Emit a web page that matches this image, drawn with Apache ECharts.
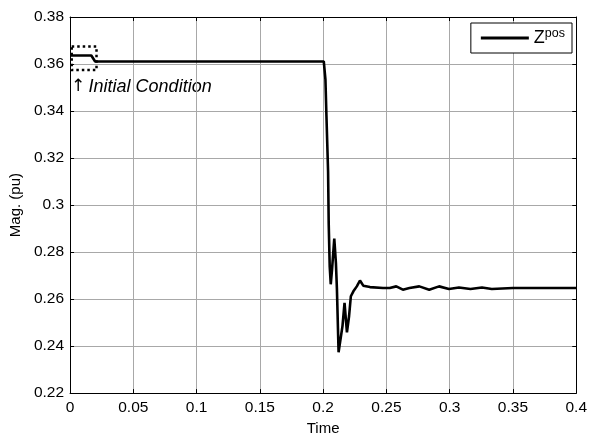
<!DOCTYPE html>
<html>
<head>
<meta charset="utf-8">
<script src="https://cdn.jsdelivr.net/npm/echarts@6/dist/echarts.min.js"></script>
<style>
html,body{margin:0;padding:0;background:#fff;}
#c{width:590px;height:441px;}
</style>
</head>
<body>
<div id="c"></div>
<script>
// Data
var timeValues = [0, 0.0168, 0.0198, 0.2005, 0.2018, 0.2026, 0.2039, 0.2044, 0.2052, 0.2060, 0.2070, 0.2088, 0.2101, 0.2109, 0.2122, 0.2135, 0.2153, 0.2169, 0.2188, 0.2205, 0.2219, 0.2239, 0.2266, 0.2291, 0.2317, 0.2370, 0.2473, 0.2526, 0.2578, 0.2630, 0.2682, 0.2760, 0.2838, 0.2916, 0.2994, 0.3073, 0.3164, 0.3255, 0.3333, 0.3500, 0.4000];
var magValues  = [0.3636, 0.3636, 0.3611, 0.3611, 0.3535, 0.3380, 0.3143, 0.2920, 0.2738, 0.2663, 0.2724, 0.2857, 0.2752, 0.2640, 0.2374, 0.2366, 0.2486, 0.2584, 0.2458, 0.2528, 0.2612, 0.2633, 0.2654, 0.2679, 0.2657, 0.2651, 0.2647, 0.2647, 0.2654, 0.2640, 0.2647, 0.2654, 0.2640, 0.2654, 0.2643, 0.2649, 0.2643, 0.2649, 0.2643, 0.2647, 0.2647];
var xTicks = {min: 0, max: 0.4, interval: 0.05};
var yTicks = {min: 0.22, max: 0.38, interval: 0.02};
var initialBoxX = [0.0013, 0.0209];
var initialBoxY = [0.3574, 0.3674];
var seriesName = 'Zpos';
var annotationText = 'Initial Condition';

var pts = timeValues.map(function (t, i) { return [t, magValues[i]]; });
var font = 'Liberation Sans, Arial, Helvetica, sans-serif';

function fmt(v) {
  return String(parseFloat(v.toFixed(4)));
}

var chart = echarts.init(document.getElementById('c'), null, {renderer: 'canvas'});
chart.setOption({
  animation: false,
  backgroundColor: '#fff',
  grid: {left: 67, right: 11, top: 17, bottom: 43, containLabel: false},
  xAxis: [{
    type: 'value', min: xTicks.min, max: xTicks.max, interval: xTicks.interval,
    name: 'Time', nameLocation: 'middle', nameGap: 24,
    nameTextStyle: {color: '#000', fontSize: 15, fontFamily: font},
    axisLine: {show: true, onZero: false, lineStyle: {color: '#000', width: 1}},
    axisTick: {show: true, inside: true, length: 4, lineStyle: {color: '#000'}},
    axisLabel: {color: '#000', fontSize: 15.5, fontFamily: font, margin: 7, formatter: fmt},
    splitLine: {show: true, lineStyle: {color: '#a8a8a8', width: 1}}
  }, {
    type: 'value', position: 'top', min: xTicks.min, max: xTicks.max, interval: xTicks.interval,
    axisLine: {show: true, onZero: false, lineStyle: {color: '#000', width: 1}},
    axisTick: {show: true, inside: true, length: 4, lineStyle: {color: '#000'}},
    axisLabel: {show: false}, splitLine: {show: false}
  }],
  yAxis: [{
    type: 'value', min: yTicks.min, max: yTicks.max, interval: yTicks.interval,
    name: 'Mag. (pu)', nameLocation: 'middle', nameGap: 46,
    nameTextStyle: {color: '#000', fontSize: 15, fontFamily: font},
    axisLine: {show: true, onZero: false, lineStyle: {color: '#000', width: 1}},
    axisTick: {show: true, inside: true, length: 4, lineStyle: {color: '#000'}},
    axisLabel: {color: '#000', fontSize: 15.5, fontFamily: font, margin: 6, formatter: fmt},
    splitLine: {show: true, lineStyle: {color: '#a8a8a8', width: 1}}
  }, {
    type: 'value', position: 'right', min: yTicks.min, max: yTicks.max, interval: yTicks.interval,
    axisLine: {show: true, onZero: false, lineStyle: {color: '#000', width: 1}},
    axisTick: {show: true, inside: true, length: 4, lineStyle: {color: '#000'}},
    axisLabel: {show: false}, splitLine: {show: false}
  }],
  legend: {
    right: 18, top: 23,
    orient: 'vertical',
    backgroundColor: '#fff',
    borderColor: '#000', borderWidth: 1, borderRadius: 0,
    padding: [4, 7, 4, 10],
    itemWidth: 48, itemHeight: 3, itemGap: 0,
    icon: 'rect',
    data: [{name: seriesName, itemStyle: {color: '#000'}}],
    formatter: function () { return '{z|Z}{s|pos}'; },
    textStyle: {
      color: '#000', fontFamily: font, padding: [0, 0, 0, 0],
      rich: {
        z: {fontSize: 18, fontFamily: font, color: '#000', lineHeight: 22},
        s: {fontSize: 12.5, fontFamily: font, color: '#000', padding: [0, 0, 9, 0], lineHeight: 22}
      }
    }
  },
  graphic: [{
    type: 'text', left: 71, top: 78,
    style: {
      rich: {
        a: {fontSize: 17, fontFamily: 'DejaVu Sans', fill: '#000'},
        t: {fontSize: 18, fontFamily: font, fontStyle: 'italic', fill: '#000'}
      },
      text: '{a|\u2191} {t|' + annotationText + '}'
    }
  }],
  series: [{
    name: seriesName,
    type: 'line',
    data: pts,
    showSymbol: false,
    symbol: 'none',
    lineStyle: {color: '#000', width: 2.6},
    itemStyle: {color: '#000'},
    markArea: {
      silent: true,
      itemStyle: {color: 'rgba(0,0,0,0)', borderColor: '#000', borderWidth: 2.5, borderType: [2.5, 3]},
      data: [[{coord: [initialBoxX[0], initialBoxY[1]]}, {coord: [initialBoxX[1], initialBoxY[0]]}]]
    }
  }]
});
</script>
</body>
</html>
